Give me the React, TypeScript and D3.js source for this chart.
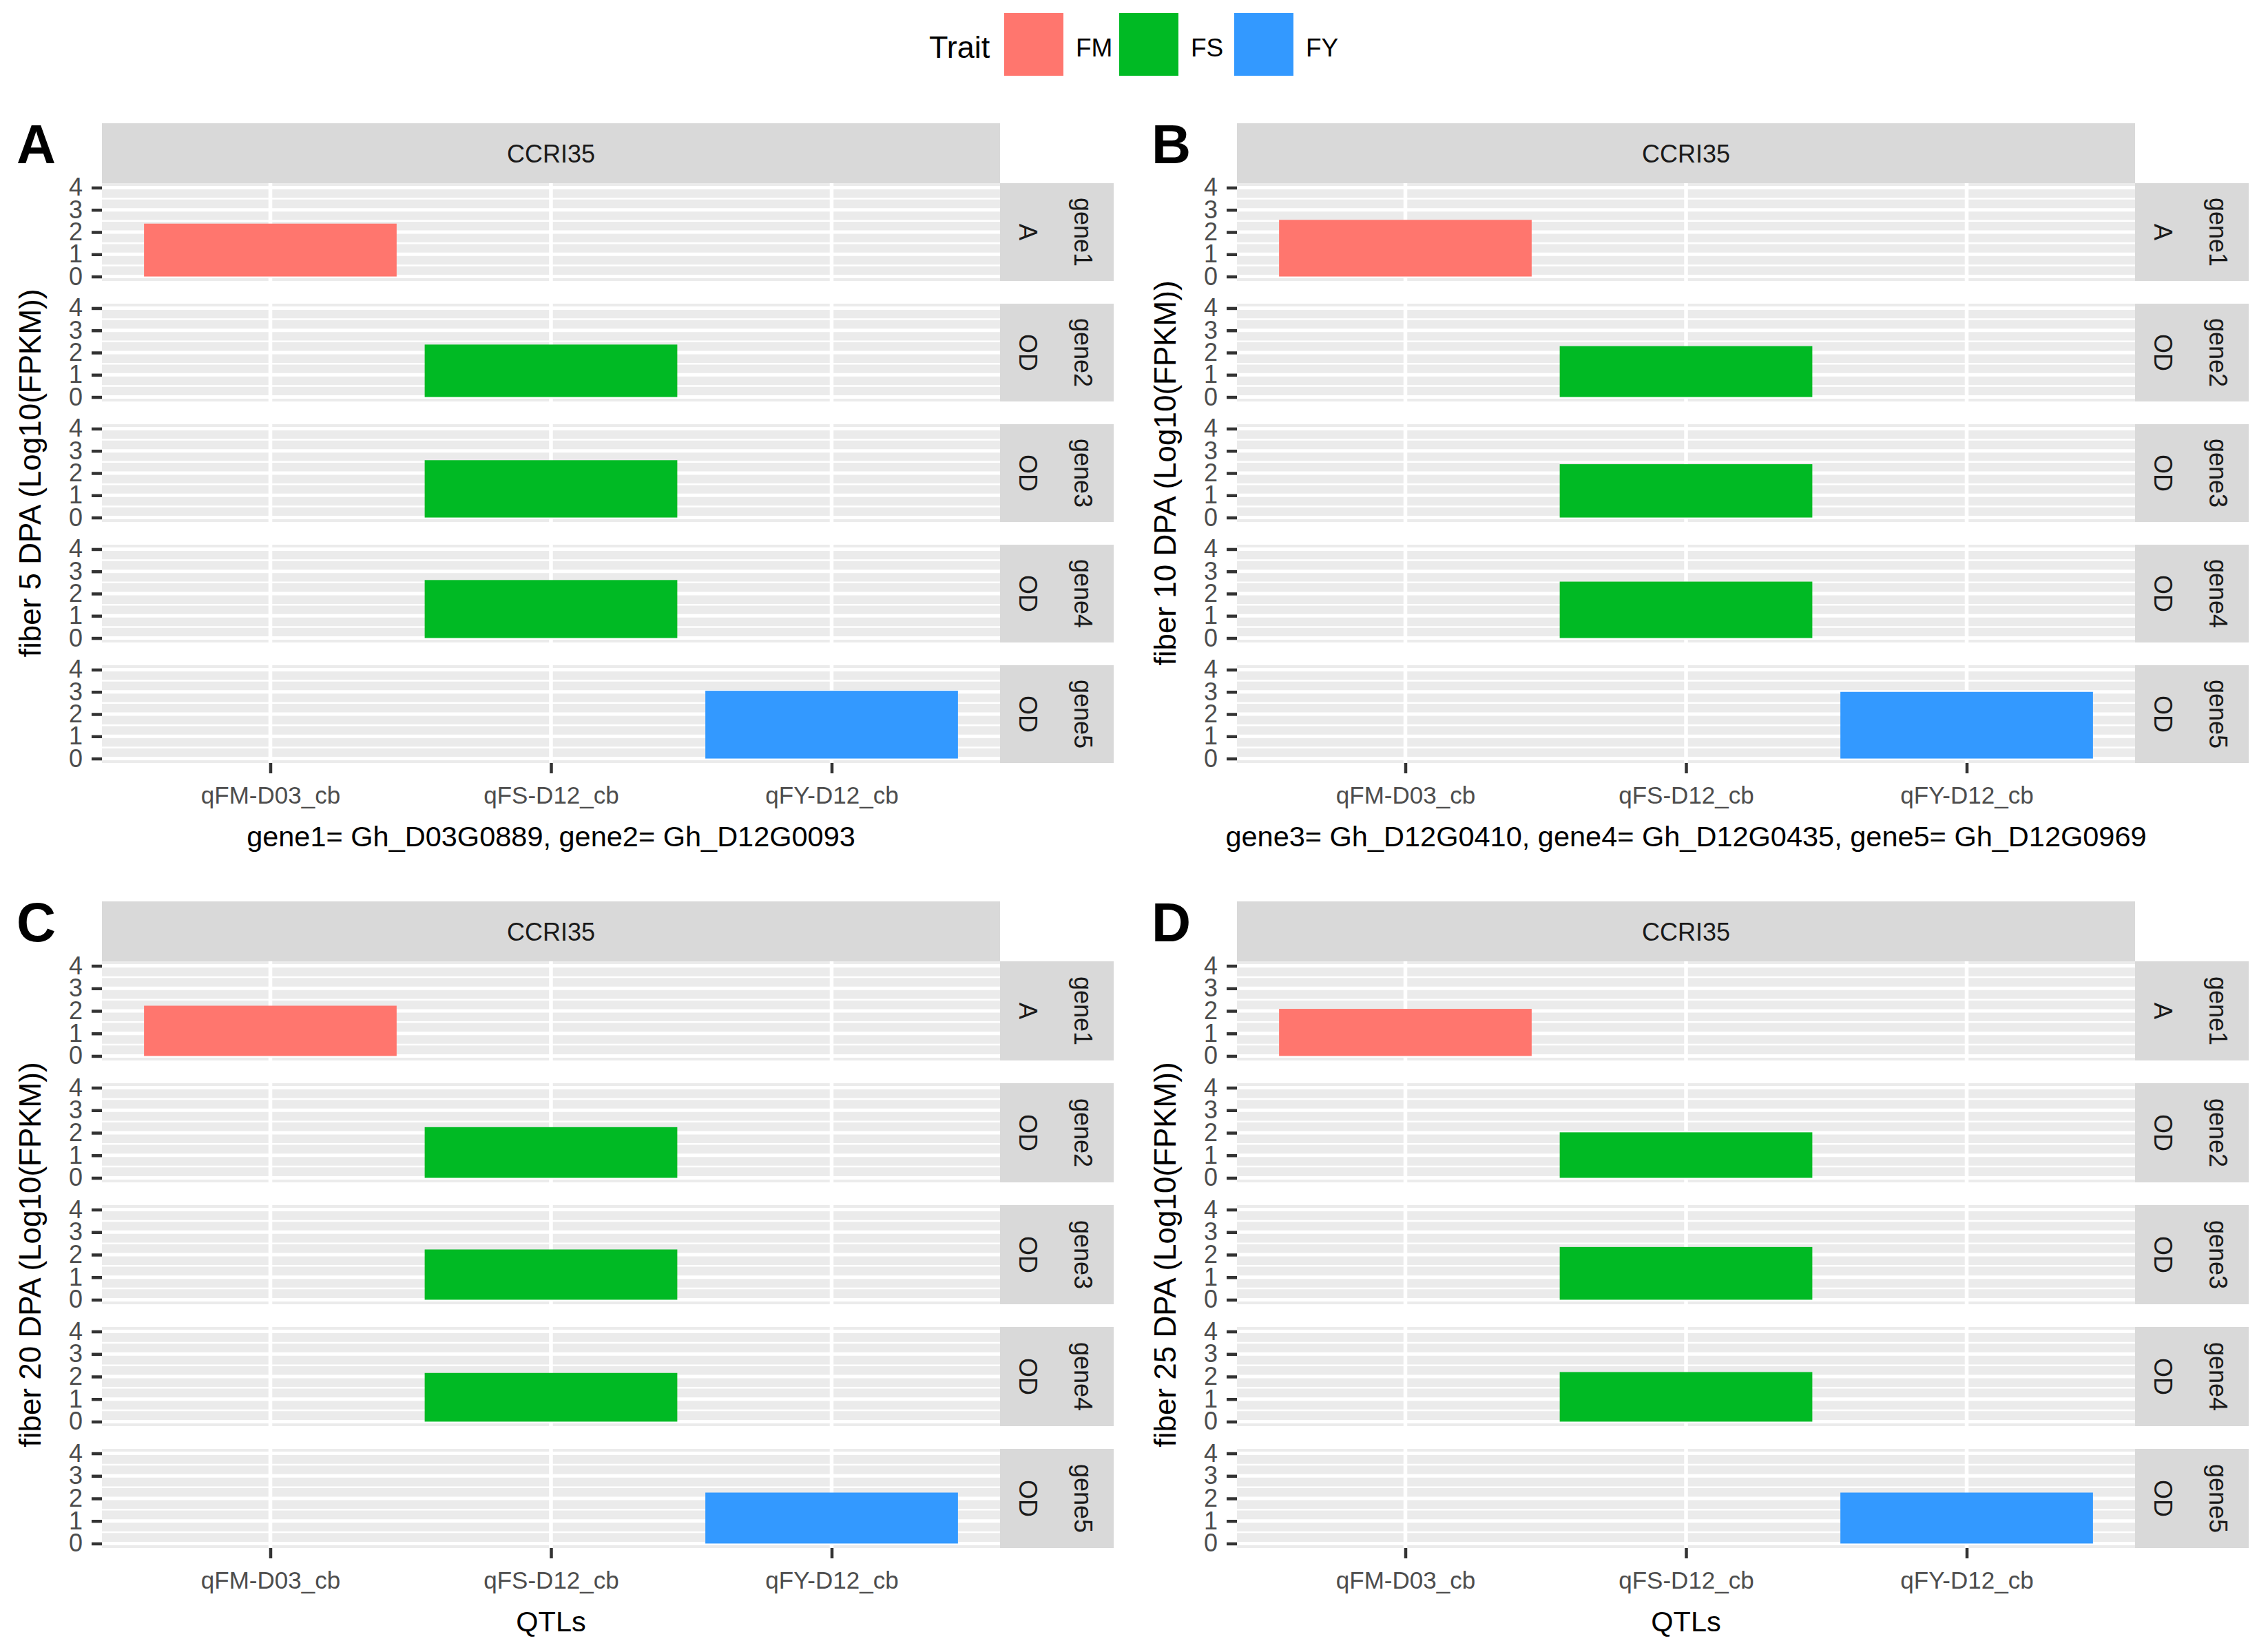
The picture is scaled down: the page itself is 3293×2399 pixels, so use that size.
import { useRef, useEffect } from "react";
import * as d3 from "d3";

const W = 3293;
const H = 2399;

const qtls = ["qFM-D03_cb", "qFS-D12_cb", "qFY-D12_cb"];
const traits = ["FM", "FS", "FY"];
const traitColors = ["#FF766E", "#00BA24", "#3399FF"];
const genes = ["gene1", "gene2", "gene3", "gene4", "gene5"];
const geneTypes = ["A", "OD", "OD", "OD", "OD"];
const geneTraits = ["FM", "FS", "FS", "FS", "FY"];
const yTicks = [0, 1, 2, 3, 4];
const yMinor = [0.5, 1.5, 2.5, 3.5];

const panelLetters = ["A", "B", "C", "D"];
const yTitles = [
  "fiber 5 DPA (Log10(FPKM))",
  "fiber 10 DPA (Log10(FPKM))",
  "fiber 20 DPA (Log10(FPKM))",
  "fiber 25 DPA (Log10(FPKM))",
];
const xTitles = [
  "gene1= Gh_D03G0889, gene2= Gh_D12G0093",
  "gene3= Gh_D12G0410, gene4= Gh_D12G0435, gene5= Gh_D12G0969",
  "QTLs",
  "QTLs",
];
const cultivar = "CCRI35";

// log10(FPKM) per gene, one array per stage
const dpa5 = [2.38, 2.36, 2.58, 2.61, 3.05];
const dpa10 = [2.55, 2.29, 2.4, 2.54, 3.0];
const dpa20 = [2.23, 2.25, 2.23, 2.16, 2.26];
const dpa25 = [2.09, 2.02, 2.34, 2.2, 2.26];
const stageValues = [dpa5, dpa10, dpa20, dpa25];

const FONT = "'Liberation Sans', Arial, Helvetica, sans-serif";

export default function App() {
  const svgRef = useRef<SVGSVGElement>(null);

  useEffect(() => {
    if (!svgRef.current) return;
    const svg = d3.select(svgRef.current);
    svg.selectAll("*").remove();

    svg.append("rect").attr("width", W).attr("height", H).attr("fill", "#fff");

    const color = d3.scaleOrdinal<string, string>().domain(traits).range(traitColors);

    // legend
    const leg = svg.append("g").attr("font-family", FONT);
    leg
      .append("text")
      .attr("x", 1349)
      .attr("y", 84)
      .attr("font-size", 45)
      .attr("fill", "#000")
      .text("Trait");
    const keyX = d3.scalePoint<string>().domain(traits).range([1458, 1792]);
    traits.forEach((t) => {
      leg
        .append("rect")
        .attr("x", keyX(t)!)
        .attr("y", 19)
        .attr("width", 86)
        .attr("height", 91)
        .attr("fill", color(t));
      leg
        .append("text")
        .attr("x", keyX(t)! + 104)
        .attr("y", 82)
        .attr("font-size", 37)
        .attr("fill", "#000")
        .text(t);
    });

    const panelLeft = 148;
    const panelRight = 1452;
    const stripW = 165;
    const stripH = 87;
    const rowGap = 33;

    stageValues.forEach((vals, p) => {
      const r = Math.floor(p / 2);
      const ox = (p % 2) * 1648;
      const stripTop = 179 + r * 1130;
      const rowTop = stripTop + stripH;
      const rowH = r === 0 ? 142 : 144;
      const g = svg
        .append("g")
        .attr("transform", `translate(${ox},0)`)
        .attr("font-family", FONT);

      // panel letter
      g.append("text")
        .attr("x", 24)
        .attr("y", stripTop + 58)
        .attr("font-size", 79)
        .attr("font-weight", "bold")
        .attr("fill", "#000")
        .text(panelLetters[p]);

      // top strip
      g.append("rect")
        .attr("x", panelLeft)
        .attr("y", stripTop)
        .attr("width", panelRight - panelLeft)
        .attr("height", stripH)
        .attr("fill", "#D9D9D9");
      g.append("text")
        .attr("x", (panelLeft + panelRight) / 2)
        .attr("y", stripTop + 57)
        .attr("text-anchor", "middle")
        .attr("font-size", 36)
        .attr("fill", "#1A1A1A")
        .text(cultivar);

      const x = d3.scalePoint<string>().domain(qtls).range([panelLeft, panelRight]).padding(0.6);
      const barW = x.step() * 0.9;

      genes.forEach((gene, i) => {
        const top = rowTop + i * (rowH + rowGap);
        const y = d3.scaleLinear().domain([-0.2, 4.2]).range([top + rowH, top]);
        const row = g.append("g");

        row
          .append("rect")
          .attr("x", panelLeft)
          .attr("y", top)
          .attr("width", panelRight - panelLeft)
          .attr("height", rowH)
          .attr("fill", "#EBEBEB");

        row
          .selectAll(".minor")
          .data(yMinor)
          .join("line")
          .attr("x1", panelLeft)
          .attr("x2", panelRight)
          .attr("y1", (d) => y(d))
          .attr("y2", (d) => y(d))
          .attr("stroke", "#fff")
          .attr("stroke-width", 2.5);
        row
          .selectAll(".major")
          .data(yTicks)
          .join("line")
          .attr("x1", panelLeft)
          .attr("x2", panelRight)
          .attr("y1", (d) => y(d))
          .attr("y2", (d) => y(d))
          .attr("stroke", "#fff")
          .attr("stroke-width", 5);
        row
          .selectAll(".vmajor")
          .data(qtls)
          .join("line")
          .attr("x1", (d) => x(d)!)
          .attr("x2", (d) => x(d)!)
          .attr("y1", top)
          .attr("y2", top + rowH)
          .attr("stroke", "#fff")
          .attr("stroke-width", 5.5);

        const trait = geneTraits[i];
        const q = qtls[traits.indexOf(trait)];
        row
          .append("rect")
          .attr("x", x(q)! - barW / 2)
          .attr("width", barW)
          .attr("y", y(vals[i]))
          .attr("height", y(0) - y(vals[i]))
          .attr("fill", color(trait));

        // y axis
        const ax = row
          .append("g")
          .attr("transform", `translate(${panelLeft},0)`)
          .call(d3.axisLeft(y).tickValues(yTicks).tickSize(15).tickPadding(13).tickFormat(d3.format("d")));
        ax.select(".domain").remove();
        ax.selectAll(".tick line").attr("stroke", "#333333").attr("stroke-width", 4.5);
        ax.selectAll(".tick text")
          .attr("fill", "#4D4D4D")
          .attr("font-size", 36)
          .attr("font-family", FONT);

        // right strip
        const sx = panelRight;
        row
          .append("rect")
          .attr("x", sx)
          .attr("y", top)
          .attr("width", stripW)
          .attr("height", rowH)
          .attr("fill", "#D9D9D9");
        const cy = top + rowH / 2;
        row
          .append("text")
          .attr("transform", `translate(${sx + 28},${cy}) rotate(90)`)
          .attr("text-anchor", "middle")
          .attr("font-size", 36)
          .attr("fill", "#1A1A1A")
          .text(geneTypes[i]);
        row
          .append("text")
          .attr("transform", `translate(${sx + 108},${cy}) rotate(90)`)
          .attr("text-anchor", "middle")
          .attr("font-size", 36)
          .attr("fill", "#1A1A1A")
          .text(gene);
      });

      // x axis below the last row
      const bottom = rowTop + genes.length * rowH + (genes.length - 1) * rowGap;
      const xa = g
        .append("g")
        .attr("transform", `translate(0,${bottom})`)
        .call(d3.axisBottom(x).tickSize(15).tickPadding(19));
      xa.select(".domain").remove();
      xa.selectAll(".tick line").attr("stroke", "#333333").attr("stroke-width", 4.5);
      xa.selectAll(".tick text")
        .attr("fill", "#4D4D4D")
        .attr("font-size", 35)
        .attr("font-family", FONT);

      // axis titles
      g.append("text")
        .attr("x", (panelLeft + panelRight) / 2)
        .attr("y", bottom + 121)
        .attr("text-anchor", "middle")
        .attr("font-size", 41.5)
        .attr("fill", "#000")
        .text(xTitles[p]);
      g.append("text")
        .attr("transform", `translate(59,${(rowTop + bottom) / 2}) rotate(-90)`)
        .attr("text-anchor", "middle")
        .attr("font-size", 44)
        .attr("fill", "#000")
        .text(yTitles[p]);
    });
  }, []);

  return (
    <div>
      <style>{`body{margin:0}`}</style>
      <svg ref={svgRef} width={W} height={H} style={{ display: "block" }} />
    </div>
  );
}
